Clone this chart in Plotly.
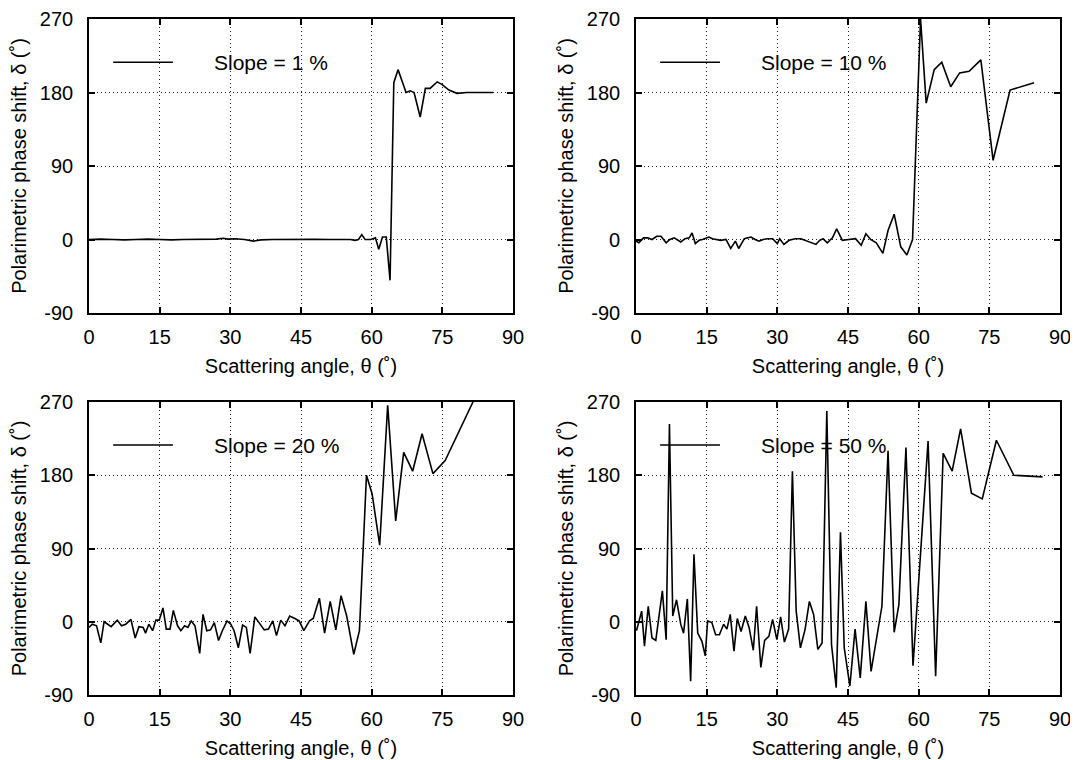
import plotly.graph_objects as go

# ---------------- data ----------------
theta_1 = [0, 2.5, 5, 7.5, 10, 12.5, 15, 17.5, 20, 22.5,
           25, 27, 28.5, 29.5, 31, 33, 34.9, 36.5, 39, 42,
           45, 48, 51, 54, 55.5, 56.5, 57.2, 57.9, 58.6, 59.8,
           60.8, 61.5, 62.3, 63.1, 63.9, 64.7, 65.6, 67.3, 68.2, 69.0,
           70.3, 71.4, 72.4, 73.9, 74.9, 76.4, 78.1, 80.2, 82.3, 85.8]
delta_1 = [0, 0.5, 0, -0.5, 0, 0.5, 0, -0.5, 0, 0.3,
           0, 0.5, 1.5, 0.5, 1, 0, -2, -0.5, 0, 0.3,
           0, 0.2, 0, 0, 0, -1, 0, 6, 0, 0,
           2, -12, 3, 3, -50, 192, 208, 180, 182, 180,
           150, 185, 185, 193, 190, 183, 179, 180, 180, 180]

theta_10 = [0, 0.6, 1.6, 2.5, 3.4, 4.4, 5.3, 6.4, 7.2, 8.1,
            9.5, 10.4, 11.3, 11.9, 12.6, 13.4, 14.1, 15.5, 16.2, 17.0,
            18.0, 19.1, 20.1, 21.1, 21.8, 23.0, 24.4, 25.3, 26.1, 27.0,
            27.9, 29.0, 30.0, 30.5, 31.4, 32.5, 33.8, 35.0, 35.9, 36.7,
            38.2, 39.0, 39.7, 40.6, 41.7, 42.6, 43.8, 45.2, 46.6, 47.8,
            48.8, 49.8, 51.0, 52.4, 53.5, 54.8, 56.2, 57.5, 58.7, 60.4,
            61.6, 63.3, 64.9, 66.8, 68.7, 70.7, 73.2, 75.8, 79.4, 84.5]
delta_10 = [-2, -4, 2, 2, 0, 4, 4, -4, 0, 2,
            -3, 1, 2, 8, -5, -1, 0, 3, 1, 0,
            -1, 0, -11, -2, -11, 1, 3, 0, -2, 0,
            1, 1, -5, 1, -6, -1, 1, 1, -1, -3,
            -6, -1, 1, -4, 2, 13, -1, 0, 1, -7,
            7, 0, -4, -17, 11, 31, -9, -19, 0, 270,
            167, 208, 217, 187, 204, 206, 220, 97, 183, 192]

theta_20 = [0, 0.7, 1.6, 2.5, 3.2, 3.9, 4.7, 6.0, 6.9, 7.8,
            8.9, 9.8, 10.6, 11.5, 12.0, 12.7, 13.5, 14.2, 14.9, 15.7,
            16.4, 17.2, 17.9, 18.8, 19.5, 20.3, 21.0, 21.7, 22.5, 23.5,
            24.2, 25.0, 25.8, 26.6, 27.5, 28.3, 29.3, 30.1, 30.8, 31.7,
            32.6, 33.4, 34.2, 35.2, 36.1, 37.2, 38.1, 39.0, 39.8, 40.7,
            41.6, 42.6, 43.7, 44.6, 45.6, 46.8, 47.6, 48.9, 50.0, 51.2,
            52.4, 53.5, 54.7, 56.2, 57.4, 58.9, 60.1, 61.7, 63.4, 65.1,
            66.8, 68.7, 70.7, 73.0, 75.6, 81.5]
delta_20 = [-7, -3, -5, -26, 0, -3, -6, 2, -5, -3,
            3, -20, -6, -7, -14, -3, -11, 2, 2, 17,
            -9, -9, 14, -5, -11, -5, -7, 1, -5, -39,
            9, -11, -10, -1, -23, -11, 1, -3, -11, -32,
            -4, -7, -39, 6, -1, -10, -9, 1, -17, 2,
            -5, 7, 4, 1, -11, 1, 4, 29, -14, 25,
            -10, 32, 7, -40, -11, 180, 157, 94, 266, 124,
            208, 185, 231, 182, 198, 270]

theta_50 = [0.1, 0.7, 1.2, 1.8, 2.6, 3.4, 4.2, 5.6, 6.4, 7.1,
            7.8, 8.6, 9.5, 10.1, 10.9, 11.6, 12.3, 13.1, 14.0, 14.7,
            15.2, 16.1, 16.9, 17.7, 18.6, 19.3, 20.0, 20.8, 21.5, 22.3,
            23.2, 24.0, 24.9, 25.6, 26.5, 27.3, 28.2, 29.0, 29.9, 30.7,
            31.5, 32.4, 33.2, 34.0, 34.9, 35.9, 36.8, 37.7, 38.6, 39.5,
            40.5, 41.5, 42.5, 43.4, 44.2, 45.4, 46.5, 47.6, 48.8, 49.9,
            51.1, 52.2, 53.5, 54.8, 55.8, 57.3, 58.8, 62.0, 63.6, 65.2,
            67.1, 68.9, 71.2, 73.5, 76.5, 80.2, 86.3]
delta_50 = [-11, 1, 13, -30, 19, -20, -23, 38, -22, 243,
            7, 27, -3, -14, 28, -73, 83, -14, -24, -42,
            1, -1, -16, -16, -3, -9, 9, -36, 4, -12,
            7, -7, -35, 19, -56, -23, -18, 3, -22, 6,
            -25, -9, 185, 13, -32, -9, 25, 9, -34, -26,
            259, -28, -81, 110, -32, -79, -9, -69, 25, -61,
            -20, 19, 210, -13, 21, 214, -54, 222, -67, 207,
            185, 237, 158, 151, 223, 180, 178]

slope_labels = ["Slope = 1 %", "Slope = 10 %", "Slope = 20 %", "Slope = 50 %"]
x_tickvals = [0, 15, 30, 45, 60, 75, 90]
x_ticktext = ["0", "15", "30", "45", "60", "75", "90"]
y_tickvals = [-90, 0, 90, 180, 270]
y_ticktext = ["-90", "0", "90", "180", "270"]
x_title = "Scattering angle, θ (˚)"
y_title = "Polarimetric phase shift, δ (˚)"

series = [(theta_1, delta_1), (theta_10, delta_10),
          (theta_20, delta_20), (theta_50, delta_50)]

# ---------------- layout ----------------
# The page body has an 8 px default margin, so the figure is drawn
# 8 px in from the window corner; size it to fit and place the panels
# relative to that offset.
OFF = 8
W, H = 1078 - OFF, 760 - OFF
FONT = "Liberation Sans, Arial, Helvetica, sans-serif"
FS = 20


def xd(a, b):
    return [(a - OFF) / W, (b - OFF) / W]


def yd(top, bottom):
    return [1 - (bottom - OFF) / H, 1 - (top - OFF) / H]


x_doms = [xd(89, 513), xd(636, 1060)]
y_doms = [yd(19, 313), yd(402, 695)]

fig = go.Figure()
layout = dict(
    width=W, height=H,
    margin=dict(l=0, r=0, t=0, b=0, autoexpand=False),
    paper_bgcolor="white", plot_bgcolor="white",
    font=dict(family=FONT, size=FS, color="black"),
    showlegend=False,
    shapes=[], annotations=[],
)

for i, (th, de) in enumerate(series):
    n = "" if i == 0 else str(i + 1)
    row, col = divmod(i, 2)
    fig.add_trace(go.Scatter(
        x=th, y=de, mode="lines",
        line=dict(color="black", width=1.6),
        xaxis="x" + n, yaxis="y" + n, name=slope_labels[i],
        hoverinfo="x+y",
    ))
    common = dict(
        showline=True, linecolor="black", linewidth=1.6, mirror="ticks",
        ticks="inside", ticklen=6, tickwidth=1.5, tickcolor="black",
        showgrid=True, gridcolor="#222222", griddash="1px,3px", gridwidth=1,
        zeroline=False, automargin=False,
        tickfont=dict(family=FONT, size=FS, color="black"),
    )
    layout["xaxis" + n] = dict(
        common, domain=x_doms[col], anchor="y" + n, range=[0, 90],
        tickmode="array", tickvals=x_tickvals, ticktext=x_ticktext,
        ticklabelstandoff=5,
        title=dict(text=x_title, standoff=12, font=dict(family=FONT, size=FS)),
    )
    layout["yaxis" + n] = dict(
        common, domain=y_doms[row], anchor="x" + n, range=[-90, 270],
        tickmode="array", tickvals=y_tickvals, ticktext=y_ticktext,
        ticklabelstandoff=10,
        title=dict(text=y_title, standoff=8, font=dict(family=FONT, size=FS)),
    )
    # legend sample (line + label) inside each panel
    layout["shapes"].append(dict(
        type="line", xref="x" + n + " domain", yref="y" + n + " domain",
        x0=0.057, x1=0.198, y0=0.853, y1=0.853,
        line=dict(color="black", width=1.5),
    ))
    layout["annotations"].append(dict(
        xref="x" + n + " domain", yref="y" + n + " domain",
        x=0.29, y=0.853, xanchor="left", yanchor="middle",
        text=slope_labels[i], showarrow=False,
        font=dict(family=FONT, size=21, color="black"),
    ))

fig.update_layout(**layout)
fig.write_html("out.html")
